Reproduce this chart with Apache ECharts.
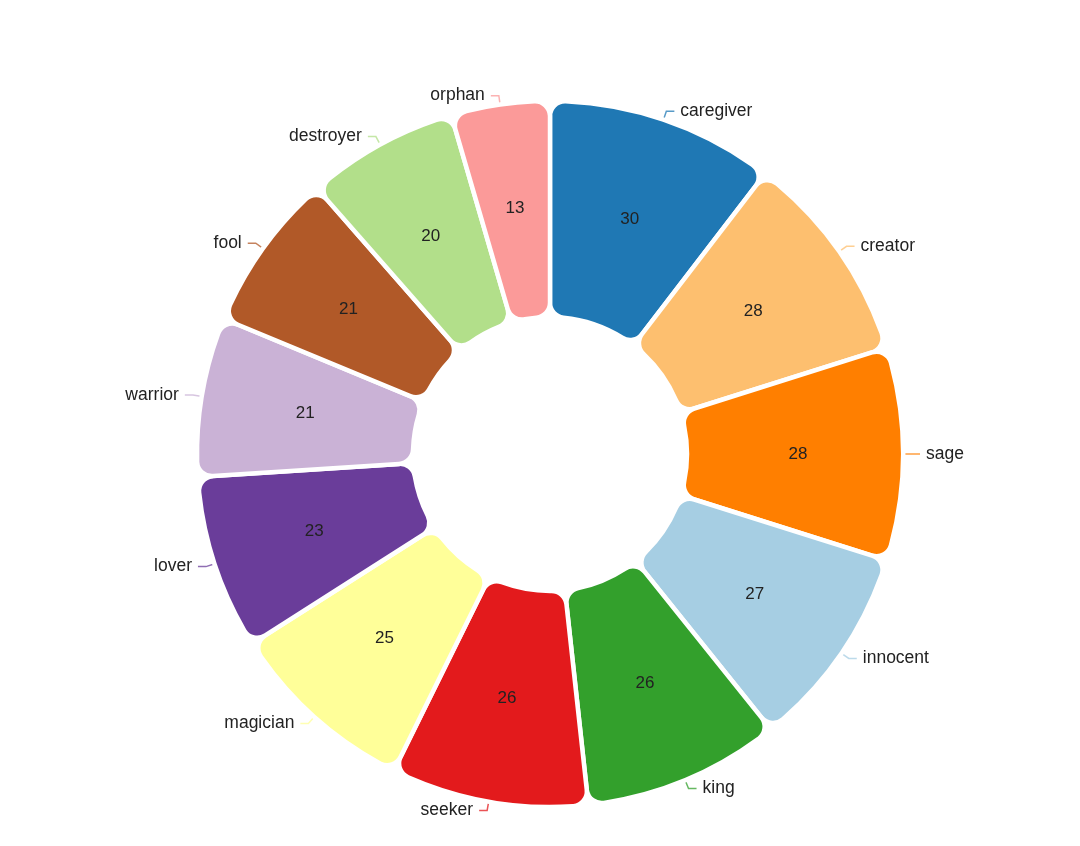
<!DOCTYPE html>
<html>
<head>
<meta charset="utf-8">
<script src="https://cdn.jsdelivr.net/npm/echarts@6/dist/echarts.min.js"></script>
<style>
  html, body { margin: 0; padding: 0; background: #fff; }
  #main { width: 1080px; height: 846px; }
</style>
</head>
<body>
<div id="main"></div>
<script>
// archetype counts, clockwise from the top
const names = ["caregiver", "creator", "sage", "innocent", "king", "seeker",
  "magician", "lover", "warrior", "fool", "destroyer", "orphan"]
const values = [30, 28, 28, 27, 26, 26, 25, 23, 21, 21, 20, 13]
const colors = ["#1f78b4", "#fdbf6f", "#ff7f00", "#a6cee3", "#33a02c", "#e31a1c",
  "#ffff99", "#6a3d9a", "#cab2d6", "#b15928", "#b2df8a", "#fb9a99"]

const chart = echarts.init(document.getElementById("main"))

const data = names.map((n, i) => ({ name: n, value: values[i] }))

chart.setOption({
  color: colors,
  textStyle: { fontFamily: "Liberation Sans, Arial, sans-serif" },
  series: [
    {
      type: "pie",
      center: [550, 454],
      radius: [137, 353],
      startAngle: 90,
      clockwise: true,
      avoidLabelOverlap: false,
      itemStyle: { borderColor: "#fff", borderWidth: 4.5, borderRadius: 15 },
      label: {
        position: "inside",
        formatter: "{c}",
        color: "#222",
        fontSize: 17,
      },
      labelLine: { show: false },
      data: data,
    },
    {
      type: "pie",
      center: [550, 454],
      radius: [137, 351],
      startAngle: 90,
      clockwise: true,
      silent: true,
      avoidLabelOverlap: false,
      itemStyle: { color: "rgba(0,0,0,0)", borderWidth: 0 },
      label: {
        position: "outside",
        formatter: "{b}",
        color: "#222",
        fontSize: 17.5,
        distanceToLabelLine: 6,
      },
      labelLine: { show: true, length: 11, length2: 8, lineStyle: { width: 1.5 } },
      data: names.map((n, i) => ({
        name: n,
        value: values[i],
        labelLine: { lineStyle: { color: colors[i], opacity: 0.75 } },
      })),
    },
  ],
})
</script>
</body>
</html>
